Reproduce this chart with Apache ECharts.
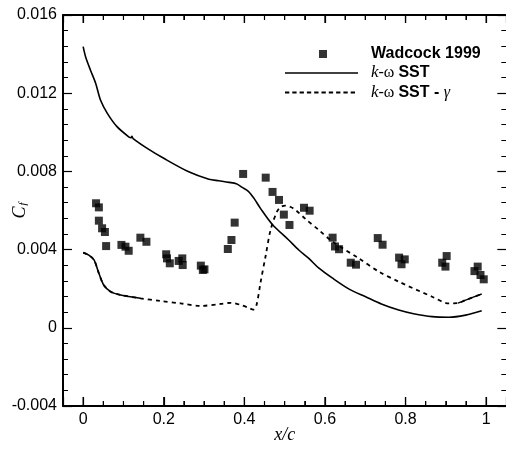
<!DOCTYPE html>
<html><head><meta charset="utf-8">
<script src="https://cdn.jsdelivr.net/npm/echarts@6/dist/echarts.min.js"></script>
<style>html,body{margin:0;padding:0;background:#fff}#c{width:506px;height:455px}</style>
</head><body><div id="c"></div>
<script>
// Tick labels and tick positions
const xTickLabels = ['0', '0.2', '0.4', '0.6', '0.8', '1'];
const yTickLabels = ['-0.004', '0', '0.004', '0.008', '0.012', '0.016'];
const xMajorTicks = [0, 0.2, 0.4, 0.6, 0.8, 1];
const xMinorTicks = [0.05, 0.1, 0.15, 0.25, 0.3, 0.35, 0.45, 0.5, 0.55, 0.65, 0.7, 0.75, 0.85, 0.9, 0.95];

// Experimental data: Wadcock 1999
const expX = [0.032,0.039,0.039,0.047,0.054,0.057,0.095,0.105,0.113,0.142,0.157,0.206,0.208,0.215,0.237,0.246,0.247,0.292,0.297,0.301,0.359,0.368,0.376,0.397,0.453,0.470,0.486,0.498,0.512,0.548,0.562,0.619,0.625,0.635,0.664,0.677,0.731,0.743,0.784,0.798,0.790,0.902,0.891,0.899,0.979,0.971,0.986,0.994];
const expY = [0.00637,0.00616,0.00548,0.00509,0.0049,0.00418,0.00424,0.00415,0.00394,0.00461,0.0044,0.00376,0.00355,0.0033,0.00342,0.00355,0.00321,0.00318,0.00296,0.00299,0.00403,0.00449,0.00538,0.00787,0.00768,0.00695,0.00654,0.00579,0.00526,0.00614,0.00599,0.00461,0.00416,0.00402,0.00333,0.00323,0.00459,0.00425,0.00359,0.0035,0.00325,0.00367,0.00333,0.00313,0.00313,0.0029,0.0027,0.00248];

// k-omega SST
const sstX = [0,0.006,0.018,0.031,0.043,0.06,0.084,0.113,0.119,0.121,0.124,0.159,0.2,0.262,0.312,0.337,0.362,0.38,0.395,0.41,0.424,0.44,0.469,0.51,0.535,0.56,0.585,0.618,0.66,0.701,0.74,0.783,0.82,0.866,0.907,0.949,0.989];
const sstY = [0.01438,0.01387,0.01319,0.01251,0.01165,0.01097,0.01029,0.00977,0.00972,0.00979,0.00968,0.00918,0.00867,0.00798,0.0076,0.00752,0.00744,0.00737,0.00718,0.00698,0.00662,0.00611,0.0053,0.00449,0.00398,0.00355,0.00305,0.00255,0.00198,0.00159,0.00122,0.00091,0.00072,0.00057,0.00054,0.00065,0.00087];

// k-omega SST - gamma
const gamX = [0,0.014,0.027,0.039,0.051,0.068,0.093,0.142,0.192,0.242,0.291,0.341,0.366,0.391,0.41,0.422,0.43,0.44,0.453,0.465,0.481,0.492,0.502,0.515,0.527,0.552,0.585,0.618,0.684,0.734,0.783,0.866,0.907,0.93,0.949,0.989];
const gamY = [0.00384,0.00372,0.00347,0.00279,0.00219,0.00185,0.00168,0.00151,0.00137,0.00125,0.00112,0.00122,0.00128,0.00117,0.00103,0.00093,0.00115,0.0023,0.0037,0.005,0.00594,0.0062,0.00625,0.00618,0.00603,0.00556,0.005,0.00442,0.00355,0.00287,0.00236,0.00159,0.00125,0.00126,0.00142,0.00173];

const pairs = (xs, ys) => xs.map((x, i) => [x, ys[i]]);
const expData = pairs(expX, expY);
const sstData = pairs(sstX, sstY);
const gamData = pairs(gamX, gamY);
const gamSolidStart = gamData.filter(p => p[0] <= 0.142);
const gamSolidEnd = gamData.filter(p => p[0] >= 0.93);
const tickData = xMajorTicks.map(v => [v, 9]).concat(xMinorTicks.map(v => [v, 5]));

const X_MIN = -0.05, X_MAX = 1.05, Y_MIN = -0.004, Y_MAX = 0.016;
const labelFont = () => ({fontFamily: 'Liberation Sans, Arial, sans-serif', fontSize: 16, color: '#000'});

function fmtX(v) { const s = String(+v.toFixed(2)); return xTickLabels.indexOf(s) >= 0 ? s : ''; }
function fmtY(v) { const s = Math.abs(v) < 1e-9 ? '0' : v.toFixed(3); return yTickLabels.indexOf(s) >= 0 ? s : ''; }

function xAxisDef(pos, showLabel, majorLen) {
  return {
    type: 'value', position: pos, min: X_MIN, max: X_MAX, splitNumber: 5,
    axisLine: {show: true, onZero: false, lineStyle: {color: '#000', width: 2}},
    axisTick: {show: true, inside: true, length: majorLen, lineStyle: {color: '#000', width: 1.2}},
    minorTick: {show: true, splitNumber: 4, length: 5, lineStyle: {color: '#000', width: 1}},
    axisLabel: showLabel ? Object.assign({show: true, margin: 6, formatter: fmtX}, labelFont()) : {show: false},
    splitLine: {show: false}, minorSplitLine: {show: false}
  };
}
function yAxisDef(pos, showLabel) {
  return {
    type: 'value', position: pos, min: Y_MIN, max: Y_MAX, interval: 0.004,
    axisLine: {show: true, onZero: false, lineStyle: {color: '#000', width: 2}},
    axisTick: {show: true, inside: true, length: 9, lineStyle: {color: '#000', width: 1.2}},
    minorTick: {show: true, splitNumber: 5, length: 5, lineStyle: {color: '#000', width: 1}},
    axisLabel: showLabel ? Object.assign({show: true, margin: 6, formatter: fmtY}, labelFont()) : {show: false},
    splitLine: {show: false}, minorSplitLine: {show: false}
  };
}

const xBottom = xAxisDef('bottom', true, 9);
xBottom.name = 'x/c';
xBottom.nameLocation = 'middle';
xBottom.nameGap = 20;
xBottom.nameMoveOverlap = false;
xBottom.nameTextStyle = {fontFamily: 'Liberation Serif, Times New Roman, serif', fontStyle: 'italic', fontSize: 18, color: '#000'};

const yLeft = yAxisDef('left', true);
yLeft.name = '{c|C}{f|f}';
yLeft.nameLocation = 'middle';
yLeft.nameGap = 34;
yLeft.nameRotate = 90;
yLeft.nameMoveOverlap = false;
yLeft.nameTextStyle = {color: '#000', rich: {
  c: {fontFamily: 'Liberation Serif, serif', fontStyle: 'italic', fontSize: 18, color: '#000'},
  f: {fontFamily: 'Liberation Serif, serif', fontStyle: 'italic', fontSize: 11, color: '#000', padding: [7, 0, 0, 1]}
}};

const legendNames = ['Wadcock 1999', 'k-ω SST', 'k-ω SST - γ'];
const legendRich = ['{b|Wadcock 1999}', '{k|k}{o|-ω }{b|SST}', '{k|k}{o|-ω }{b|SST - }{g|γ}'];
const dashIcon = 'path://M0,0M0,4.1h4.3v1.8h-4.3zM7.3,4.1h4.3v1.8h-4.3zM14.6,4.1h4.3v1.8h-4.3zM21.9,4.1h4.3v1.8h-4.3zM29.2,4.1h4.3v1.8h-4.3zM36.5,4.1h4.3v1.8h-4.3zM43.8,4.1h4.3v1.8h-4.3zM51.1,4.1h4.3v1.8h-4.3zM58.4,4.1h4.3v1.8h-4.3zM65.7,4.1h4.3v1.8h-4.3zM73,10';

const series = [
  {name: legendNames[0], type: 'scatter', data: expData, symbol: 'rect', symbolSize: 8},
  {name: legendNames[1], type: 'line', data: sstData, showSymbol: false, symbol: 'none', smooth: 0.3,
   lineStyle: {width: 1.6}},
  {name: legendNames[2], type: 'line', data: gamData, showSymbol: false, symbol: 'none', smooth: 0.3,
   lineStyle: {width: 1.8, type: [4, 4]}},
  {name: 'gamma-lead', type: 'line', data: gamSolidStart, showSymbol: false, symbol: 'none', smooth: 0.3,
   lineStyle: {width: 1.6}},
  {name: 'gamma-trail', type: 'line', data: gamSolidEnd, showSymbol: false, symbol: 'none', smooth: 0.3,
   lineStyle: {width: 1.4}},
  {name: 'x-ticks', type: 'custom', data: tickData, silent: true, clip: false, z: 10,
   renderItem: (params, api) => {
     const v = api.value(0), len = api.value(1);
     const b = api.coord([v, Y_MIN]), t = api.coord([v, Y_MAX]);
     return {type: 'group', children: [
       {type: 'line', shape: {x1: b[0], y1: b[1], x2: b[0], y2: b[1] - len}, style: {stroke: '#000', lineWidth: 1.2}},
       {type: 'line', shape: {x1: t[0], y1: t[1], x2: t[0], y2: t[1] + Math.min(len, 8)}, style: {stroke: '#000', lineWidth: 1.2}}
     ]};
   }}
];

const chart = echarts.init(document.getElementById('c'));
chart.setOption({
  animation: false,
  backgroundColor: '#fff',
  color: ['#000', '#000', '#000', '#000', '#000', '#000'],
  grid: {left: 63, top: 15, width: 443.3, height: 391, outerBoundsMode: 'none'},
  xAxis: [xBottom, xAxisDef('top', false, 8)],
  yAxis: [yLeft, yAxisDef('right', false)],
  legend: {
    orient: 'vertical', left: 285, top: 46, padding: 0, itemWidth: 73, itemHeight: 10, itemGap: 2.5,
    data: [
      {name: legendNames[0], icon: 'path://M0,0M34,1h8v8h-8zM73,10'},
      {name: legendNames[1], icon: 'path://M0,0M0,4.2h73v1.6h-73zM73,10'},
      {name: legendNames[2], icon: dashIcon}
    ],
    formatter: name => legendRich[legendNames.indexOf(name)],
    textStyle: {
      padding: [0, 0, 0, 8], lineHeight: 16,
      rich: {
        b: {fontFamily: 'Liberation Sans, Arial, sans-serif', fontWeight: 'bold', fontSize: 16, color: '#000', lineHeight: 16},
        k: {fontFamily: 'Liberation Serif, serif', fontStyle: 'italic', fontSize: 17, color: '#000', lineHeight: 16},
        o: {fontFamily: 'Liberation Serif, serif', fontSize: 16, color: '#000', lineHeight: 16},
        g: {fontFamily: 'Liberation Serif, serif', fontStyle: 'italic', fontSize: 16, color: '#000', lineHeight: 16}
      }
    }
  },
  series: series
});
</script>
</body></html>
